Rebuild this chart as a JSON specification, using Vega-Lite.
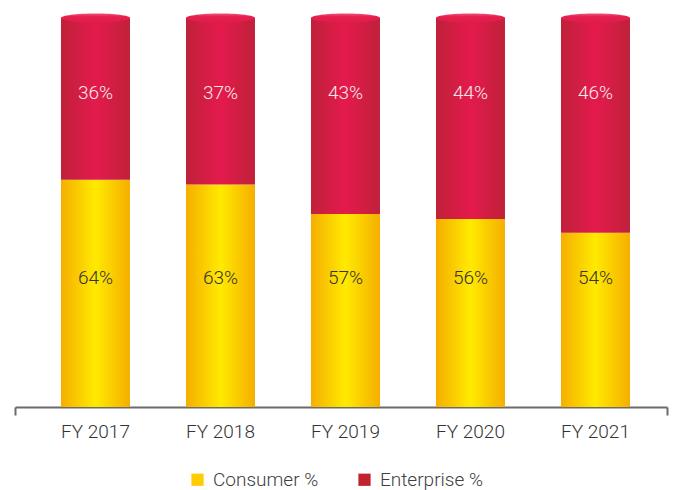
{
  "$schema": "https://vega.github.io/schema/vega-lite/v6.json",
  "width": 652,
  "height": 389,
  "autosize": {"type": "none"},
  "padding": {"left": 15, "top": 18, "right": 7, "bottom": 83},
  "background": "white",
  "config": {"view": {"stroke": null}, "font": "Roboto"},
  "data": {
    "values": [
      {"year": "FY 2017", "consumer": 64, "enterprise": 36, "split": 58.4},
      {"year": "FY 2018", "consumer": 63, "enterprise": 37, "split": 57.2},
      {"year": "FY 2019", "consumer": 57, "enterprise": 43, "split": 49.6},
      {"year": "FY 2020", "consumer": 56, "enterprise": 44, "split": 48.3},
      {"year": "FY 2021", "consumer": 54, "enterprise": 46, "split": 44.8}
    ]
  },
  "resolve": {"axis": {"x": "independent"}},
  "layer": [
    {
      "mark": {
        "type": "bar",
        "fill": {"gradient": "linear", "x1": 0, "x2": 1, "y1": 0, "y2": 0,
          "stops": [{"offset": 0, "color": "#f5ae00"}, {"offset": 0.5, "color": "#ffea00"}, {"offset": 1, "color": "#f5ae00"}]}
      },
      "encoding": {
        "x": {
          "field": "year",
          "type": "nominal",
          "sort": null,
          "scale": {"paddingInner": 0.448, "paddingOuter": 0.332, "align": 0.554},
          "axis": {
            "orient": "bottom",
            "title": null,
            "labelAngle": 0,
            "labelFontSize": 19,
            "labelFontWeight": 300,
            "labelColor": "#333333",
            "labelPadding": 15,
            "domainColor": "#6b6b6b",
            "domainWidth": 2,
            "ticks": false
          }
        },
        "y": {"field": "split", "type": "quantitative", "scale": {"domain": [0, 100]}, "axis": null},
        "y2": {"datum": 0}
      }
    },
    {
      "mark": {
        "type": "bar",
        "fill": {"gradient": "linear", "x1": 0, "x2": 1, "y1": 0, "y2": 0,
          "stops": [{"offset": 0, "color": "#bf2139"}, {"offset": 0.5, "color": "#e41a4d"}, {"offset": 1, "color": "#bf2139"}]}
      },
      "encoding": {
        "x": {"field": "year", "type": "nominal", "sort": null, "axis": null},
        "y": {"field": "split", "type": "quantitative"},
        "y2": {"datum": 100}
      }
    },
    {
      "mark": {
        "type": "point",
        "filled": true,
        "opacity": 1,
        "strokeWidth": 0,
        "size": 4761,
        "shape": "M-1,0A1,0.13,0,1,0,1,0A1,0.13,0,1,0,-1,0Z",
        "fill": {"gradient": "linear", "x1": 0, "x2": 0, "y1": 0, "y2": 1,
          "stops": [{"offset": 0, "color": "#ee5577"}, {"offset": 0.35, "color": "#e6204f"}, {"offset": 1, "color": "#e01c4a"}]}
      },
      "encoding": {
        "x": {
          "field": "year", "type": "nominal", "sort": null,
          "axis": {
            "orient": "bottom",
            "title": null, "labels": false, "domain": false,
            "tickColor": "#6b6b6b", "tickWidth": 2, "tickSize": 8,
            "tickOffset": -80.5,
            "tickOpacity": {"condition": {"test": "datum.value === 'FY 2017'", "value": 1}, "value": 0}
          }
        },
        "y": {"datum": 100, "type": "quantitative"}
      }
    },
    {
      "transform": [{"calculate": "datum.consumer + '%'", "as": "clabel"}],
      "mark": {"type": "text", "fontSize": 19, "fontWeight": 300, "color": "#333333"},
      "encoding": {
        "x": {
          "field": "year", "type": "nominal", "sort": null,
          "axis": {
            "orient": "bottom",
            "title": null, "labels": false, "domain": false,
            "tickColor": "#6b6b6b", "tickWidth": 2, "tickSize": 8,
            "tickOffset": 71.5,
            "tickOpacity": {"condition": {"test": "datum.value === 'FY 2021'", "value": 1}, "value": 0}
          }
        },
        "y": {"datum": 33.2, "type": "quantitative"},
        "text": {"field": "clabel"}
      }
    },
    {
      "transform": [{"calculate": "datum.enterprise + '%'", "as": "elabel"}],
      "mark": {"type": "text", "fontSize": 19, "fontWeight": 300, "color": "#fbe9ec"},
      "encoding": {
        "x": {"field": "year", "type": "nominal", "sort": null, "axis": null},
        "y": {"datum": 80.7, "type": "quantitative"},
        "text": {"field": "elabel"}
      }
    },
    {
      "transform": [{"fold": ["consumer", "enterprise"], "as": ["series", "v"]},
        {"calculate": "datum.series === 'consumer' ? 'Consumer %' : 'Enterprise %'", "as": "Series"}],
      "mark": {"type": "point", "shape": "square", "filled": true, "opacity": 0},
      "encoding": {
        "x": {"field": "year", "type": "nominal", "sort": null, "axis": null},
        "y": {"datum": 50, "type": "quantitative"},
        "fill": {
          "field": "Series",
          "type": "nominal",
          "scale": {"domain": ["Consumer %", "Enterprise %"], "range": ["#ffcc00", "#c1222f"]},
          "legend": {
            "title": null,
            "orient": "none",
            "direction": "horizontal",
            "legendX": 173,
            "legendY": 452,
            "symbolOpacity": 1,
            "symbolType": "square",
            "symbolSize": 150,
            "symbolStrokeWidth": 0,
            "labelFontSize": 19,
            "labelFontWeight": 300,
            "labelColor": "#404040",
            "labelOffset": 6,
            "columnPadding": 36
          }
        }
      }
    }
  ]
}
